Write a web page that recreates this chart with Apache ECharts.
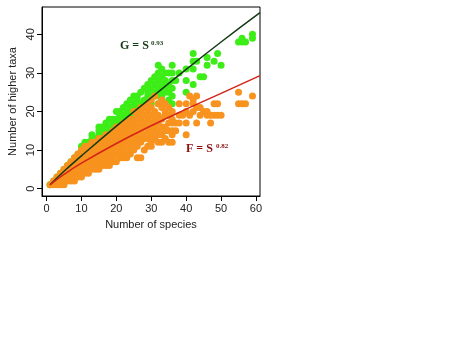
<!DOCTYPE html>
<html>
<head>
<meta charset="utf-8">
<script src="https://cdn.jsdelivr.net/npm/echarts@6/dist/echarts.min.js"></script>
<style>
html,body{margin:0;padding:0;background:#fff;}
#chart{width:450px;height:337px;}
</style>
</head>
<body>
<div id="chart"></div>
<script>
// Genera (green): [number of species, list of genus counts]
const genusCols = [
  [1,[1]],[2,[2]],[3,[3]],[4,[4]],[5,[5]],[6,[5,6]],[7,[6,7]],[8,[7,8]],[9,[8,9]],
  [10,[9,10,11]],[11,[10,11,12]],[12,[11,12]],[13,[12,13,14]],[14,[12,13]],
  [15,[13,14,15,16]],[16,[14,15,16]],[17,[14,15,16,17]],[18,[15,16,18]],[19,[16,17,18]],
  [20,[16,17,18,20]],[21,[17,18,19,20]],[22,[18,19,21]],[23,[18,19,20,22]],
  [24,[19,20,21,23]],[25,[20,21,22,24]],[26,[20,21,23,24]],[27,[21,22,25]],
  [28,[22,23,26]],[29,[22,24,25,27]],[30,[22,24,26,28]],[31,[24,25,27,29]],
  [32,[22,24,26,28,30,32]],[33,[24,25,27,29,31]],[34,[25,26,28,30]],[35,[23,25,27,30]],
  [36,[22,24,26,28,30,32]],[37,[28]],[38,[30]],[40,[25,28,31]],[42,[27,31,33,35]],
  [43,[33]],[44,[29]],[45,[29]],[46,[32,34]],[48,[33]],[49,[35]],[50,[32]],
  [55,[38]],[56,[38,39]],[57,[38]],[59,[39,40]]
];
// Families (orange): [number of species, list of family counts]
const familyCols = [
  [1,[1]],[2,[1,2]],[3,[1,2,3]],[4,[1,2,3,4]],[5,[1,2,3,4,5]],[6,[2,3,4,5,6]],
  [7,[2,3,4,5,6,7]],[8,[2,3,4,5,6,7,8]],[9,[3,4,5,6,7,8,9]],[10,[3,4,5,6,7,8,9,10]],
  [11,[4,5,6,7,8,9,10,11]],[12,[4,5,6,7,8,9,10,11]],[13,[5,6,7,8,9,10,11,12]],
  [14,[5,6,7,8,9,10,11,12]],[15,[5,6,7,8,9,10,11,12,13]],[16,[6,7,8,9,10,11,12,13]],
  [17,[6,7,8,9,10,11,12,13,14]],[18,[6,7,8,9,10,11,12,13,14]],[19,[7,8,9,10,11,12,13,14,15]],
  [20,[7,9,10,11,12,13,14,15,16]],[21,[8,9,10,11,12,13,14,15,16]],
  [22,[8,9,10,11,12,13,14,15,16,17]],[23,[8,9,11,12,13,14,15,16,17]],
  [24,[9,10,12,13,14,15,16,17,18]],[25,[10,11,12,13,14,15,16,17,18,20]],
  [26,[8,11,12,13,14,16,17,19,20]],[27,[8,12,13,15,16,18,20,21]],[28,[10,13,14,16,17,19,21]],
  [29,[11,13,15,16,18,20,22]],[30,[11,12,14,15,17,19,21,23]],[31,[13,15,16,18,20,24]],
  [32,[12,14,15,17,19,22]],[33,[12,14,16,18,21,23]],[34,[13,15,16,19,20,22]],
  [35,[12,15,17,19,21]],[36,[12,14,15,17,18,20]],[37,[15,17]],[38,[17,19,22]],[39,[19]],
  [40,[14,17,20,22]],[41,[19,24]],[42,[20,22,23]],[43,[17,21,24]],[44,[19,21]],[45,[20]],
  [46,[19,20]],[47,[17,19]],[48,[19,22]],[49,[19,22]],[50,[19]],
  [55,[22,25]],[56,[22]],[57,[22]],[59,[24]]
];
// fitted curves
const fitX = [1, 5, 10, 20, 30, 40, 50, 61.15];
const genusFit = [1, 4.5, 8.5, 16.2, 23.6, 30.9, 38.0, 45.6];
const familyFit = [1, 3.7, 6.6, 11.7, 16.3, 20.6, 24.7, 29.3];
const xTicks = [0, 10, 20, 30, 40, 50, 60];
const yTicks = [0, 10, 20, 30, 40];
const genusLabel = ['G = S', '0.93'];
const familyLabel = ['F = S', '0.82'];

function flatten(cols){
  const out = [];
  cols.forEach(c => c[1].forEach(v => out.push([c[0], v])));
  return out;
}
const genusData = flatten(genusCols);
const familyData = flatten(familyCols);
const pair = (xs, ys) => xs.map((x, i) => [x, ys[i]]);

const FONT = '"Liberation Sans", Arial, sans-serif';
const SERIF = '"Liberation Serif", "Times New Roman", serif';
const chart = echarts.init(document.getElementById('chart'), null, {renderer: 'canvas'});
chart.setOption({
  animation: false,
  backgroundColor: '#fff',
  grid: {left: 42, top: 7, width: 218, height: 189, show: true, borderColor: '#000', borderWidth: 1, backgroundColor: 'transparent'},
  xAxis: {
    type: 'value', min: -1.3, max: 61.15,
    name: 'Number of species', nameLocation: 'middle', nameGap: 23,
    nameTextStyle: {fontFamily: FONT, fontSize: 11, color: '#222'},
    axisLine: {show: true, onZero: false, lineStyle: {color: '#000', width: 1}},
    axisTick: {show: true, inside: false, length: 5, customValues: xTicks, lineStyle: {color: '#000'}},
    axisLabel: {customValues: xTicks, fontFamily: FONT, fontSize: 11, color: '#222', margin: 7},
    splitLine: {show: false}
  },
  yAxis: {
    type: 'value', min: -1.9, max: 47.07,
    name: 'Number of higher taxa', nameLocation: 'middle', nameGap: 24, nameRotate: 90,
    nameTextStyle: {fontFamily: FONT, fontSize: 11, color: '#222'},
    axisLine: {show: true, onZero: false, lineStyle: {color: '#000', width: 1}},
    axisTick: {show: true, inside: false, length: 5, customValues: yTicks, lineStyle: {color: '#000'}},
    axisLabel: {customValues: yTicks, rotate: 90, fontFamily: FONT, fontSize: 11, color: '#222', margin: 6},
    splitLine: {show: false}
  },
  series: [
    {type: 'scatter', data: genusData, symbolSize: 7, itemStyle: {color: '#3ded17', opacity: 1}, z: 2},
    {type: 'scatter', data: familyData, symbolSize: 7, itemStyle: {color: '#f7931e', opacity: 1}, z: 3},
    {type: 'line', data: pair(fitX, genusFit), smooth: true, showSymbol: false, lineStyle: {color: '#143a14', width: 1.5}, z: 4},
    {type: 'line', data: pair(fitX, familyFit), smooth: true, showSymbol: false, lineStyle: {color: '#d42418', width: 1.5}, z: 4}
  ],
  graphic: [
    {type: 'text', left: 120, top: 40, z: 10, style: {text: genusLabel[0], font: 'bold 12px ' + SERIF, fill: '#143a14'}},
    {type: 'text', left: 151, top: 40, z: 10, style: {text: genusLabel[1], font: 'bold 7px ' + SERIF, fill: '#143a14'}},
    {type: 'text', left: 186, top: 143, z: 10, style: {text: familyLabel[0], font: 'bold 12px ' + SERIF, fill: '#8a0e0e'}},
    {type: 'text', left: 216, top: 143, z: 10, style: {text: familyLabel[1], font: 'bold 7px ' + SERIF, fill: '#8a0e0e'}}
  ]
});
</script>
</body>
</html>
